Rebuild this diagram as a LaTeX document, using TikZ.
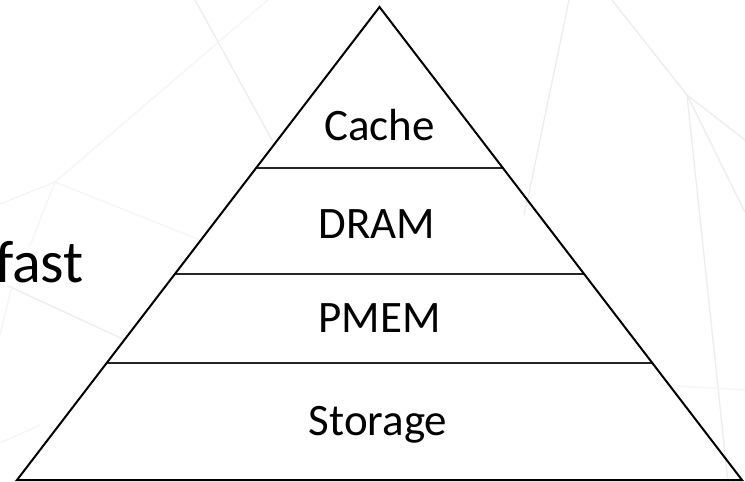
\documentclass[tikz,border=0pt]{standalone}
\usepackage{fontspec}
\setmainfont{Carlito}
\begin{document}
\begin{tikzpicture}[x=1pt,y=-1pt,
  bgline/.style={draw=black!7,line width=1.3pt},
  bgfaint/.style={draw=black!4,line width=1.3pt},
  outline/.style={draw=black,line width=2pt,line join=miter},
  divider/.style={draw=black!85,line width=1.4pt},
  layer/.style={font=\fontsize{45}{50}\selectfont,anchor=base,inner sep=0pt},
  sidetext/.style={font=\fontsize{60}{66}\selectfont,anchor=base east,inner sep=0pt}]
\useasboundingbox[fill=white] (0,0) rectangle (745,482);
% faint background lines
\draw[bgline] (195,0) -- (272,140);
\draw[bgfaint] (270,-2) -- (55,182) -- (0,204);
\draw[bgfaint] (55,182) -- (30,246);
\draw[bgfaint] (55,182) -- (200,240);
\draw[bgline] (8,286) -- (125,340);
\draw[bgfaint] (12,286) -- (0,335);
\draw[bgfaint] (0,443) -- (40,425);
\draw[bgline] (569,0) -- (529,193) -- (524,215);
\draw[bgline] (612,0) -- (687,95);
\draw[bgline] (687,95) -- (745,140);
\draw[bgline] (687,95) -- (745,212);
\draw[bgline] (687,95) -- (728,482);
\draw[bgfaint] (660,385) -- (745,390);
% pyramid
\coordinate (apex) at (379.5,7);
\coordinate (bl) at (17,480);
\coordinate (br) at (742,480);
\path (apex) -- (bl) coordinate[pos=0.3404] (l1) coordinate[pos=0.5645] (l2) coordinate[pos=0.7526] (l3);
\path (apex) -- (br) coordinate[pos=0.3404] (r1) coordinate[pos=0.5645] (r2) coordinate[pos=0.7526] (r3);
\draw[divider] (l1) -- (r1);
\draw[divider] (l2) -- (r2);
\draw[divider] (l3) -- (r3);
\draw[outline] (apex) -- (bl) -- (br) -- cycle;
% labels
\node[layer] (cache) at (379.5,140) {Cache};
\node[layer] (dram) at (377,238) {DRAM};
\node[layer] (pmem) at (379.5,332) {PMEM};
\node[layer] (storage) at (378,435) {Storage};
\node[sidetext] (fast) at (84,282) {fast};
\end{tikzpicture}
\end{document}
